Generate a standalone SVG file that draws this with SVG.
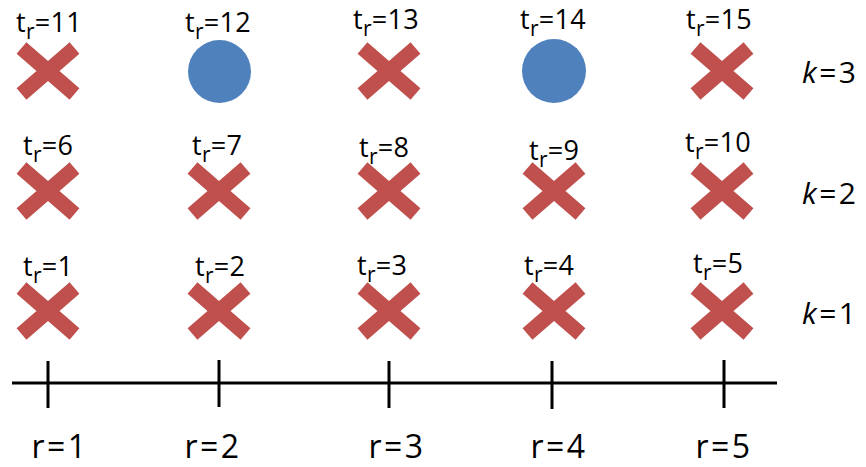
<svg xmlns="http://www.w3.org/2000/svg" width="866" height="467" viewBox="0 0 866 467">
<style>
.x{stroke:#C0504D;stroke-width:15;stroke-linecap:butt;fill:none}
.dot{fill:#4F81BD}
.lbl{font-family:"Open Sans","Liberation Sans",sans-serif;font-size:27px;letter-spacing:0.3px;fill:#000}
.sub{font-size:21px}
.ax{font-family:"Open Sans","Liberation Sans",sans-serif;font-size:32px;letter-spacing:2.5px;fill:#000;text-anchor:middle}
.k{font-family:"Open Sans","Liberation Sans",sans-serif;font-size:30px;letter-spacing:2.5px;fill:#000}
.axis{stroke:#000;stroke-width:3;fill:none}
</style>
<defs>
<g id="cross"><path class="x" d="M-26.5,-23L26.5,23M-26.5,23L26.5,-23"/></g>
</defs>
<rect width="866" height="467" fill="#fff"/>
<g id="n11"><use href="#cross" x="48" y="71"/><text class="lbl" x="16" y="32">t<tspan class="sub" dy="7">r</tspan><tspan dy="-7">=11</tspan></text></g>
<g id="n12"><circle class="dot" cx="219.5" cy="71.5" r="31.5"/><text class="lbl" x="185" y="32">t<tspan class="sub" dy="7">r</tspan><tspan dy="-7">=12</tspan></text></g>
<g id="n13"><use href="#cross" x="389" y="71"/><text class="lbl" x="353" y="29">t<tspan class="sub" dy="7">r</tspan><tspan dy="-7">=13</tspan></text></g>
<g id="n14"><circle class="dot" cx="554" cy="71" r="32"/><text class="lbl" x="520" y="29">t<tspan class="sub" dy="7">r</tspan><tspan dy="-7">=14</tspan></text></g>
<g id="n15"><use href="#cross" x="722" y="71"/><text class="lbl" x="686" y="29">t<tspan class="sub" dy="7">r</tspan><tspan dy="-7">=15</tspan></text></g>

<g id="n6"><use href="#cross" x="48" y="191"/><text class="lbl" x="23" y="155">t<tspan class="sub" dy="7">r</tspan><tspan dy="-7">=6</tspan></text></g>
<g id="n7"><use href="#cross" x="219" y="191"/><text class="lbl" x="192" y="155">t<tspan class="sub" dy="7">r</tspan><tspan dy="-7">=7</tspan></text></g>
<g id="n8"><use href="#cross" x="389" y="191"/><text class="lbl" x="359" y="157">t<tspan class="sub" dy="7">r</tspan><tspan dy="-7">=8</tspan></text></g>
<g id="n9"><use href="#cross" x="554" y="191"/><text class="lbl" x="529" y="160">t<tspan class="sub" dy="7">r</tspan><tspan dy="-7">=9</tspan></text></g>
<g id="n10"><use href="#cross" x="722" y="191"/><text class="lbl" x="685" y="152">t<tspan class="sub" dy="7">r</tspan><tspan dy="-7">=10</tspan></text></g>

<g id="n1"><use href="#cross" x="48" y="311"/><text class="lbl" x="23" y="276">t<tspan class="sub" dy="7">r</tspan><tspan dy="-7">=1</tspan></text></g>
<g id="n2"><use href="#cross" x="219" y="311"/><text class="lbl" x="195" y="276">t<tspan class="sub" dy="7">r</tspan><tspan dy="-7">=2</tspan></text></g>
<g id="n3"><use href="#cross" x="389" y="311"/><text class="lbl" x="357" y="275">t<tspan class="sub" dy="7">r</tspan><tspan dy="-7">=3</tspan></text></g>
<g id="n4"><use href="#cross" x="554" y="311"/><text class="lbl" x="524" y="275">t<tspan class="sub" dy="7">r</tspan><tspan dy="-7">=4</tspan></text></g>
<g id="n5"><use href="#cross" x="722" y="311"/><text class="lbl" x="693" y="273">t<tspan class="sub" dy="7">r</tspan><tspan dy="-7">=5</tspan></text></g>

<g id="k-labels">
<text class="k" x="802" y="83"><tspan font-style="italic">k</tspan>=3</text>
<text class="k" x="802" y="204"><tspan font-style="italic">k</tspan>=2</text>
<text class="k" x="802" y="324"><tspan font-style="italic">k</tspan>=1</text>
</g>

<g id="connectors">
<path class="axis" d="M12,383H777M48,361V408M219,360V407M389,361V408M552,361V409M724,360V408"/>
</g>
<g id="axis-labels">
<text class="ax" x="60" y="458">r=1</text>
<text class="ax" x="213" y="458">r=2</text>
<text class="ax" x="397" y="458">r=3</text>
<text class="ax" x="559" y="458">r=4</text>
<text class="ax" x="724" y="458">r=5</text>
</g>
</svg>
